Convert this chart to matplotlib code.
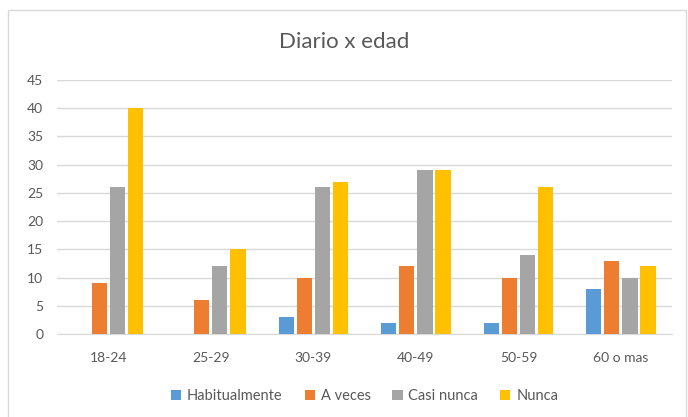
import numpy as np
import matplotlib.pyplot as plt
from matplotlib.patches import Rectangle

plt.rcParams['font.family'] = ['Lato', 'DejaVu Sans']

# datos
edades = ['18-24', '25-29', '30-39', '40-49', '50-59', '60 o mas']
series = ['Habitualmente', 'A veces', 'Casi nunca', 'Nunca']
habitualmente = [0, 0, 3, 2, 2, 8]
a_veces = [9, 6, 10, 12, 10, 13]
casi_nunca = [26, 12, 26, 29, 14, 10]
nunca = [40, 15, 27, 29, 26, 12]
colores = ['#5B9BD5', '#ED7D31', '#A5A5A5', '#FFC000']

valores = [habitualmente, a_veces, casi_nunca, nunca]

fig = plt.figure(figsize=(6.88, 4.17), dpi=100)
ax = fig.add_axes([0.083, 0.199, 0.894, 0.609])

# marco del grafico
fig.patches.append(Rectangle((8 / 688, -0.01), 678 / 688, 1 - 10 / 417 + 0.01,
                             transform=fig.transFigure, fill=False,
                             edgecolor='#D9D9D9', linewidth=1))

x = np.arange(len(edades))
ancho = 0.148
paso = 0.176
for i, (nombre, vals) in enumerate(zip(series, valores)):
    ax.bar(x + (i - 1.5) * paso, vals, width=ancho, color=colores[i], label=nombre, zorder=3)

ax.set_xlim(-0.5, len(edades) - 0.5)
ax.set_ylim(0, 45)
ax.set_yticks(range(0, 46, 5))
ax.set_xticks(x)
ax.set_xticklabels(edades)
ax.grid(axis='y', color='#D9D9D9', linewidth=1, zorder=0)
for s in ['top', 'right', 'left']:
    ax.spines[s].set_visible(False)
ax.spines['bottom'].set_color('#D9D9D9')
ax.tick_params(axis='both', length=0, colors='#595959', labelsize=10)
ax.tick_params(axis='x', pad=13)
ax.tick_params(axis='y', pad=10)

fig.text(0.5, 1 - 42 / 417, 'Diario x edad', ha='center', va='center',
         fontsize=16, color='#595959')

ax.legend(loc='center', bbox_to_anchor=(0.5, -0.245), ncol=4, frameon=False,
          fontsize=10.5, labelcolor='#595959', handlelength=0.7, handleheight=0.7,
          handletextpad=0.4, columnspacing=1.5)

plt.savefig('out.png', dpi=100)
